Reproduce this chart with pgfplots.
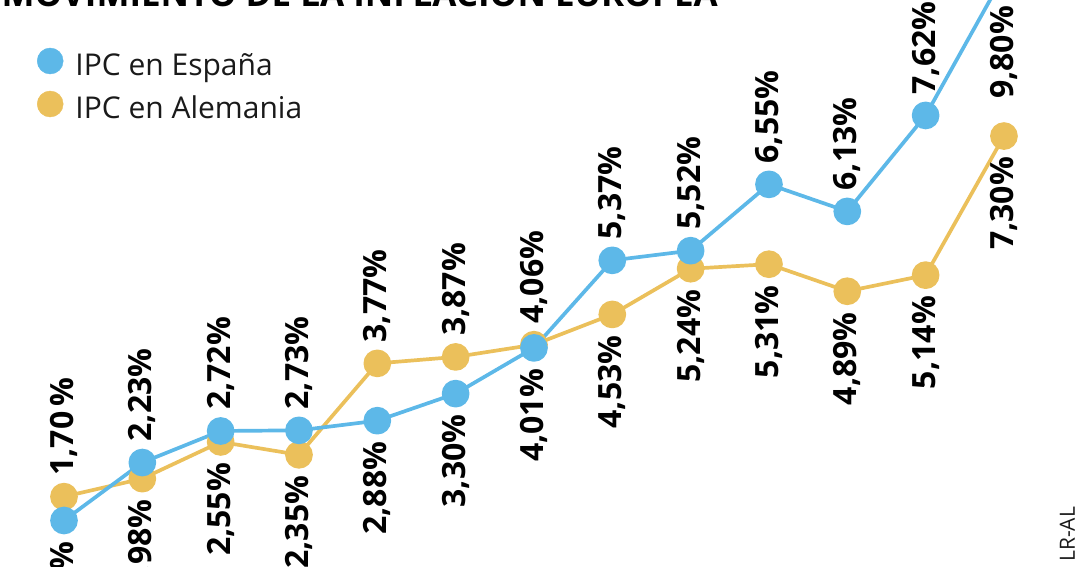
\documentclass[border=0pt]{standalone}
\usepackage{fontspec}
\setmainfont{Open Sans}
\usepackage{pgfplots}
\pgfplotsset{compat=1.18}
\usepackage{pgfplotstable}
\definecolor{esp}{HTML}{5DB8E8}
\definecolor{ale}{HTML}{EBC05B}
\definecolor{txt}{HTML}{1A1A1A}

% IPC en España
\pgfplotstableread{
x y
0 1.33
1 2.23
2 2.72
3 2.73
4 2.88
5 3.30
6 4.01
7 5.37
8 5.52
9 6.55
10 6.13
11 7.62
12 9.80
}\espdata
% IPC en Alemania
\pgfplotstableread{
x y
0 1.70
1 1.98
2 2.55
3 2.35
4 3.77
5 3.87
6 4.06
7 4.53
8 5.24
9 5.31
10 4.89
11 5.14
12 7.30
}\aledata
% labels placed above their point
\pgfplotstableread{
x y lab
0 1.70 1,70\,
1 2.23 2,23
2 2.72 2,72
3 2.73 2,73
4 3.77 3,77
5 3.87 3,87
6 4.06 4,06
7 5.37 5,37
8 5.52 5,52
9 6.55 6,55
10 6.13 6,13
11 7.62 7,62
}\above
% labels placed below their point
\pgfplotstableread{
x y lab
0 1.33 1,33
1 1.98 1,98
2 2.55 2,55
3 2.35 2,35
4 2.88 2,88
5 3.30 3,30
6 4.01 4,01
7 4.53 4,53
8 5.24 5,24
9 5.31 5,31
10 4.89 4,89
11 5.14 5,14
12 7.30 7,30
}\below
\pgfplotstableread{
x y lab
12 9.80 9,80
}\lastesp

\pgfplotsset{
  lbl/.style 2 args={
    draw=none, mark=none, forget plot,
    point meta=explicit symbolic,
    nodes near coords={\pgfplotspointmeta\%},
    every node near coord/.append style={rotate=90, anchor=#1,
      inner sep=0pt, outer xsep=#2, text=black,
      font=\bfseries\fontsize{32}{32}\selectfont},
  },
}

\begin{document}
\begin{tikzpicture}
\begin{axis}[
  at={(0pt,0pt)}, anchor=south west,
  scale only axis, width=1080pt, height=617.7pt,
  xmin=-0.817, xmax=12.971, ymin=0.608, ymax=10.2,
  hide axis,
  line join=round,
  legend style={draw=none, fill=none, inner sep=0pt, outer sep=0pt,
    at={(37/1080,520/617.7)}, anchor=north west,
    font=\fontsize{30}{30}\selectfont, text=txt,
    nodes={inner sep=0pt, text height=28pt, text depth=0pt},
    column sep=12pt, row sep=15pt},
  legend cell align=left,
  legend image code/.code={\fill[#1] (13pt,0pt) circle (13pt);},
]
\addlegendimage{esp}
\addlegendentry{IPC en España}
\addlegendimage{ale}
\addlegendentry{IPC en Alemania}
\addplot[ale, line width=3.7pt, mark=*, mark size=12pt,
  mark options={draw=none, fill=ale}, forget plot]
  table[x=x, y=y] {\aledata};
\addplot[esp, line width=3.7pt, mark=*, mark size=12pt,
  mark options={draw=none, fill=esp}, forget plot]
  table[x=x, y=y] {\espdata};
\addplot[lbl={west}{21pt}] table[x=x, y=y, meta=lab] {\above};
\addplot[lbl={east}{21pt}] table[x=x, y=y, meta=lab] {\below};
\addplot[lbl={east}{31pt}] table[x=x, y=y, meta=lab] {\lastesp};
\end{axis}
\node[anchor=base east, font=\bfseries\fontsize{35}{35}\selectfont, text=black, inner sep=0pt]
  at (718pt,560pt) {MOVIMIENTO DE LA INFLACIÓN EUROPEA};
\node[rotate=90, anchor=south west, font=\fontsize{21}{21}\selectfont, text=txt, inner sep=0pt]
  at (1075pt,5pt) {LR-AL};
\pgfresetboundingbox
\useasboundingbox (0pt,0pt) rectangle (1080pt,567pt);
\end{tikzpicture}
\end{document}
